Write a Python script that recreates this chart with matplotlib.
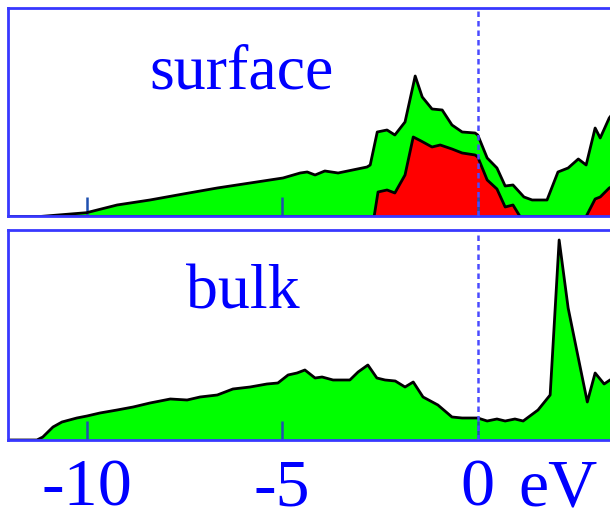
import numpy as np
import matplotlib.pyplot as plt

plt.rcParams['font.family'] = ['Liberation Serif', 'DejaVu Serif']

# surface: total DOS (green) and projected part (red), arbitrary units
e_surf = np.array([-12.0, -11.19, -10.0, -9.22, -8.38, -7.53, -6.66, -5.82, -4.98, -4.54,
                   -4.36, -4.16, -3.91, -3.57, -2.83, -2.75, -2.57, -2.32, -2.12, -1.86,
                   -1.60, -1.42, -1.17, -0.91, -0.66, -0.40, -0.07, 0.0, 0.24, 0.49,
                   0.70, 0.90, 1.18, 1.39, 1.77, 2.05, 2.31, 2.57, 2.77, 3.00,
                   3.13, 3.36, 3.51])
dos_surf = np.array([0, 0, 3.8, 11.5, 16.5, 22.5, 28.5, 33.5, 38.5, 43.5,
                     44.5, 41.5, 45.5, 43.5, 49.5, 51.5, 84.5, 86.5, 81.5, 94.5,
                     140.5, 119.5, 107.5, 106.5, 91.5, 84.5, 83.5, 81.5, 58.5, 48.5,
                     30.5, 31.5, 19.5, 16.5, 16.5, 44.5, 48.5, 57.5, 51.5, 88.5,
                     78.5, 98.5, 106])

e_red = np.array([-12.0, -2.65, -2.55, -2.32, -2.12, -1.86, -1.65, -1.45, -1.17, -0.96,
                  -0.66, -0.40, -0.07, 0.0, 0.24, 0.49, 0.70, 0.90, 1.08, 2.77,
                  3.00, 3.13, 3.36, 3.51])
dos_red = np.array([0, 0, 24.5, 26.5, 23.5, 41.5, 79.5, 75.5, 69.5, 71.5,
                    67.5, 63.5, 61.5, 59.5, 36.5, 27.5, 9.5, 11.5, 0, 0,
                    17.5, 19.5, 28.5, 31.5])

# bulk DOS
e_bulk = np.array([-12.01, -11.27, -11.12, -10.86, -10.63, -10.25, -9.99, -9.66, -9.22, -8.81,
                   -8.38, -7.86, -7.43, -7.10, -6.66, -6.26, -5.82, -5.39, -5.11, -4.85,
                   -4.62, -4.42, -4.16, -3.98, -3.70, -3.27, -3.06, -2.81, -2.58, -2.37,
                   -2.11, -1.86, -1.65, -1.40, -1.02, -0.66, -0.40, 0.0, 0.24, 0.49,
                   0.70, 0.95, 1.16, 1.54, 1.85, 2.08, 2.31, 2.57, 2.80, 3.00,
                   3.23, 3.38, 3.64])
dos_bulk = np.array([0, 0, 3, 13, 18, 22, 24, 27, 30, 33,
                     37, 41, 40, 43, 45, 51, 53, 56, 57, 65,
                     67, 70, 62, 63, 60, 60, 68, 75, 62, 60,
                     59, 53, 58, 43, 35, 23, 22, 22, 19, 21,
                     19, 21, 19, 30, 45, 200, 132, 82, 38, 67,
                     56, 60, 65])

ticks = [-10, -5, 0]
tick_labels = ['-10', '-5', '0']

blue = '#3838ff'
tickc = '#1f50b0'

fig = plt.figure(figsize=(6.1, 5.13), dpi=100)
ax1 = fig.add_axes([0.0131, 0.578, 0.9869, 0.4064])
ax2 = fig.add_axes([0.0131, 0.1423, 0.9869, 0.4094])

for ax in (ax1, ax2):
    ax.set_xlim(-12.01, 3.38)
    ax.set_yticks([])
    ax.set_xticks(ticks)
    ax.tick_params(axis='x', direction='in', length=14, width=1.8, color=tickc)
    for s in ['top', 'left', 'bottom']:
        ax.spines[s].set_color(blue)
        ax.spines[s].set_linewidth(2)
    ax.spines['right'].set_visible(False)
    ax.axvline(0, color='#4a4aff', lw=1.8, ls=(0, (2.2, 1.6)), zorder=3)

ax1.fill_between(e_surf, 0, dos_surf, color='#00ff00', lw=0)
ax1.plot(e_surf, dos_surf, color='black', lw=2)
ax1.fill_between(e_red, 0, dos_red, color='#ff0000', lw=0)
ax1.plot(e_red, dos_red, color='black', lw=2)
ax1.set_ylim(0, 208.5)
ax1.set_xticklabels([])
ax1.text(-6.03, 127.5, 'surface', color='#0000ff', fontsize=46, ha='center', va='baseline')

ax2.fill_between(e_bulk, 0, dos_bulk, color='#00ff00', lw=0)
ax2.plot(e_bulk, dos_bulk, color='black', lw=2)
ax2.set_ylim(0, 210)
ax2.set_xticks(ticks)
ax2.set_xticklabels([])
for t, lab in zip(ticks, tick_labels):
    ax2.text(t, -0.31, lab, color='#0000ff', fontsize=49, ha='center', va='baseline',
             transform=ax2.get_xaxis_transform())
ax2.text(-6.0, 131, 'bulk', color='#0000ff', fontsize=46, ha='center', va='baseline')
ax2.text(1.03, -0.31, 'eV', color='#0000ff', fontsize=49, ha='left', va='baseline',
         transform=ax2.get_xaxis_transform())

plt.savefig('out.png', dpi=100)
